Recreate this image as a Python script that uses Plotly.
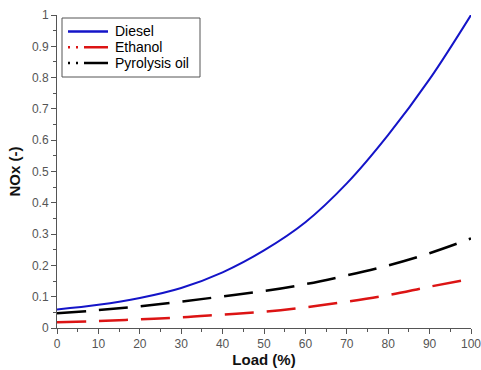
import plotly.graph_objects as go

load = [0, 10, 20, 30, 40, 50, 60, 70, 80, 90, 100]
diesel = [0.059, 0.074, 0.096, 0.128, 0.178, 0.248, 0.338, 0.462, 0.617, 0.795, 1.0]
ethanol = [0.018, 0.022, 0.028, 0.034, 0.043, 0.052, 0.066, 0.084, 0.105, 0.132, 0.157]
pyrolysis = [0.047, 0.057, 0.069, 0.084, 0.101, 0.118, 0.140, 0.168, 0.200, 0.239, 0.286]

names = ["Diesel", "Ethanol", "Pyrolysis oil"]
colors = ["#1414c8", "#dc1414", "#000000"]
legend_dash = ["solid", "2px,6px,2px,6px,30px", "2px,6px,2px,6px,30px"]

font = "Liberation Sans, Arial, sans-serif"
fig = go.Figure()

fig.add_trace(go.Scatter(x=load, y=diesel, mode="lines", line_shape="spline",
                         line=dict(color=colors[0], width=2), name=names[0]))
fig.add_trace(go.Scatter(x=load, y=ethanol, mode="lines", line_shape="spline",
                         line=dict(color=colors[1], width=2.5, dash="29px,13px"),
                         name=names[1]))
fig.add_trace(go.Scatter(x=load, y=pyrolysis, mode="lines", line_shape="spline",
                         line=dict(color=colors[2], width=2.5, dash="29px,13px"),
                         name=names[2]))

axis_common = dict(showline=True, linecolor="#555", linewidth=1, ticks="outside",
                   ticklen=5, tickcolor="#555", showgrid=False, zeroline=False,
                   tickfont=dict(family=font, size=12, color="#555"),
                   mirror=False, automargin=False, ticklabeloverflow="allow")

fig.update_xaxes(range=[0, 100], dtick=10, tick0=0,
                 minor=dict(ticks="outside", ticklen=3, dtick=5, tickcolor="#555"),
                 title=dict(text="<b>Load (%)</b>", font=dict(family=font, size=15, color="#111"), standoff=3),
                 **axis_common)
fig.update_yaxes(range=[0, 1], dtick=0.1, tick0=0,
                 minor=dict(ticks="outside", ticklen=3, dtick=0.05, tickcolor="#555"),
                 title=dict(text="<b>NOx (-)</b>", font=dict(family=font, size=15, color="#111"), standoff=7),
                 **axis_common)

# manual legend (paper coordinates)
W, H = 481, 370
L, R, T, B = 57, 10, 15, 42
pw, ph = W - L - R, H - T - B
def px(x):
    return (x - L) / pw
def py(y):
    return (H - B - y) / ph

shapes = [dict(type="rect", xref="paper", yref="paper",
               x0=px(62), x1=px(200), y0=py(77), y1=py(18),
               line=dict(color="#555", width=1), fillcolor="white", layer="above")]
annotations = []
for i, (nm, c, d) in enumerate(zip(names, colors, legend_dash)):
    yy = 31.5 + 15.8 * i
    shapes.append(dict(type="line", xref="paper", yref="paper",
                       x0=px(68), x1=px(108), y0=py(yy), y1=py(yy),
                       line=dict(color=c, width=2.5, dash=d), layer="above"))
    annotations.append(dict(xref="paper", yref="paper", x=px(114), y=py(yy),
                            text=nm, showarrow=False, xanchor="left", yanchor="middle",
                            borderpad=0,
                            font=dict(family=font, size=14, color="#000")))

fig.update_layout(
    width=W, height=H,
    margin=dict(l=L, r=R, t=T, b=B, autoexpand=False),
    plot_bgcolor="white", paper_bgcolor="white",
    font=dict(family=font),
    showlegend=False,
    shapes=shapes, annotations=annotations,
)

fig.write_html("out.html")
